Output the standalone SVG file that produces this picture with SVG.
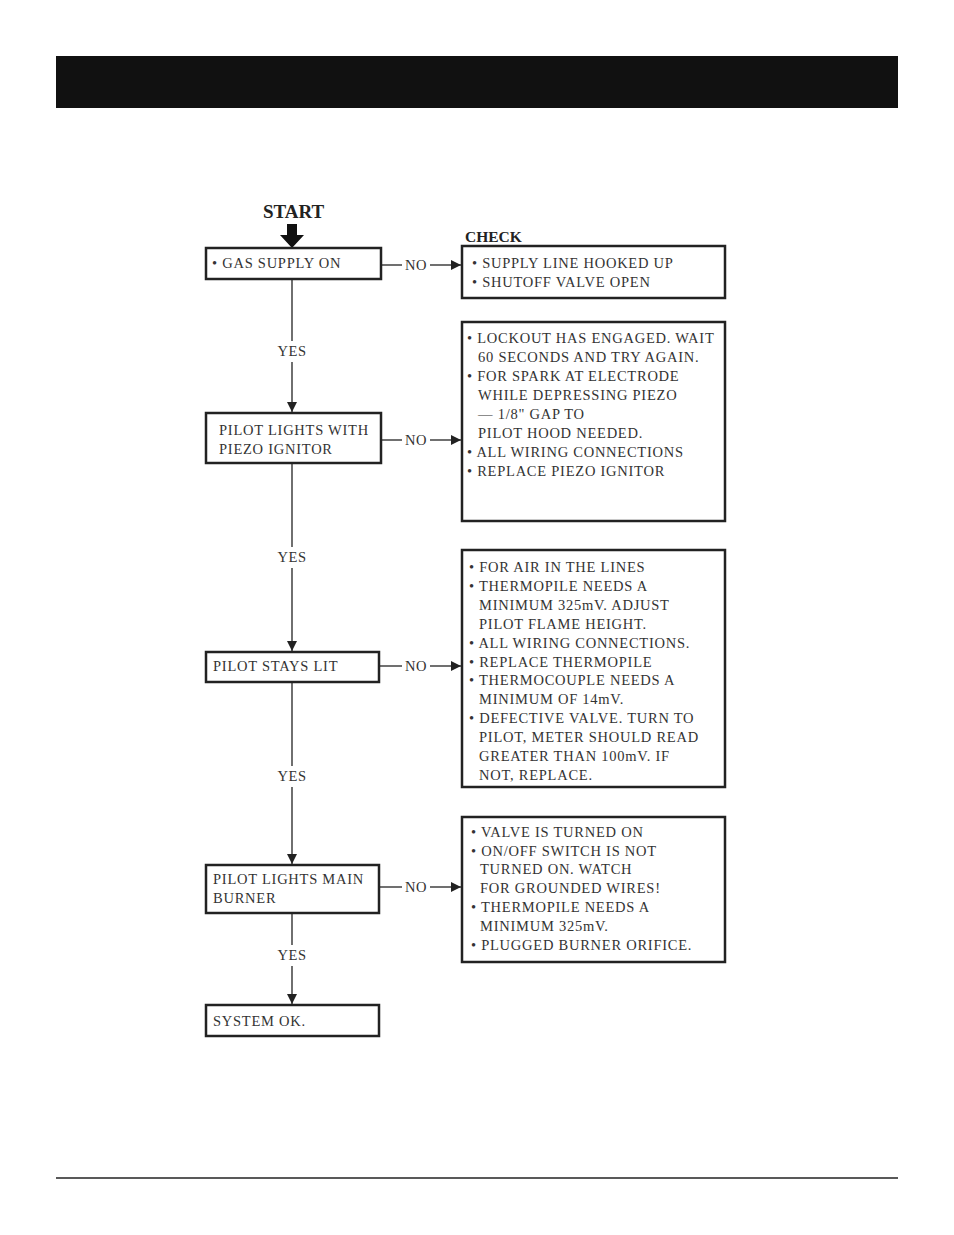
<svg xmlns="http://www.w3.org/2000/svg" width="954" height="1235" viewBox="0 0 954 1235">
<defs>
<style>
.box{fill:#fff;stroke:#222;stroke-width:2.5}
.t{font-family:"Liberation Serif","Times New Roman",serif;font-size:14.5px;letter-spacing:0.75px;fill:#333}
.lbl{font-family:"Liberation Serif","Times New Roman",serif;font-size:14.5px;letter-spacing:0.5px;fill:#333;text-anchor:middle}
.hd{font-family:"Liberation Serif","Times New Roman",serif;font-weight:bold;fill:#222}
.ln{stroke:#222;stroke-width:1.3;fill:none}
</style>
<marker id="ah" viewBox="0 0 10 10" refX="10" refY="5" markerWidth="17" markerHeight="10" markerUnits="userSpaceOnUse" orient="auto">
<path d="M0,0 L10,5 L0,10 z" fill="#222"/>
</marker>
<marker id="av" viewBox="0 0 10 10" refX="10" refY="5" markerWidth="18" markerHeight="10" markerUnits="userSpaceOnUse" orient="auto">
<path d="M0,0 L10,5 L0,10 z" fill="#222"/>
</marker>
</defs>
<rect width="954" height="1235" fill="#fff"/>
<rect x="56" y="56" width="842" height="52" fill="#111"/>
<line x1="56" y1="1178" x2="898" y2="1178" stroke="#222" stroke-width="1.3"/>

<text class="hd" x="263" y="218" font-size="19">START</text>
<path d="M287,224 H297 V235 H304 L292,248 L280,235 H287 Z" fill="#111"/>
<text class="hd" x="465" y="242" font-size="15.5">CHECK</text>

<g id="connectors">
<line class="ln" x1="292" y1="280" x2="292" y2="341"/>
<line class="ln" x1="292" y1="362" x2="292" y2="412" marker-end="url(#av)"/>
<line class="ln" x1="292" y1="464" x2="292" y2="547"/>
<line class="ln" x1="292" y1="568" x2="292" y2="651" marker-end="url(#av)"/>
<line class="ln" x1="292" y1="683" x2="292" y2="766"/>
<line class="ln" x1="292" y1="787" x2="292" y2="864" marker-end="url(#av)"/>
<line class="ln" x1="292" y1="914" x2="292" y2="945"/>
<line class="ln" x1="292" y1="966" x2="292" y2="1004" marker-end="url(#av)"/>
<text class="lbl" x="292" y="356">YES</text>
<text class="lbl" x="292" y="562">YES</text>
<text class="lbl" x="292" y="781">YES</text>
<text class="lbl" x="292" y="960">YES</text>

<line class="ln" x1="382" y1="265" x2="402" y2="265"/>
<text class="lbl" x="416" y="270">NO</text>
<line class="ln" x1="430" y1="265" x2="461" y2="265" marker-end="url(#ah)"/>
<line class="ln" x1="382" y1="440" x2="402" y2="440"/>
<text class="lbl" x="416" y="445">NO</text>
<line class="ln" x1="430" y1="440" x2="461" y2="440" marker-end="url(#ah)"/>
<line class="ln" x1="380" y1="666" x2="402" y2="666"/>
<text class="lbl" x="416" y="671">NO</text>
<line class="ln" x1="430" y1="666" x2="461" y2="666" marker-end="url(#ah)"/>
<line class="ln" x1="380" y1="887" x2="402" y2="887"/>
<text class="lbl" x="416" y="892">NO</text>
<line class="ln" x1="430" y1="887" x2="461" y2="887" marker-end="url(#ah)"/>
</g>

<g id="n-gas">
<rect class="box" x="206" y="248" width="175" height="31"/>
<text class="t" x="212" y="268">• GAS SUPPLY ON</text>
</g>
<g id="n-check1">
<rect class="box" x="462" y="246" width="263" height="52"/>
<text class="t" x="472" y="268">• SUPPLY LINE HOOKED UP</text>
<text class="t" x="472" y="287">• SHUTOFF VALVE OPEN</text>
</g>

<g id="n-piezo">
<rect class="box" x="206" y="413" width="175" height="50"/>
<text class="t" x="219" y="435">PILOT LIGHTS WITH</text>
<text class="t" x="219" y="454">PIEZO IGNITOR</text>
</g>
<g id="n-check2">
<rect class="box" x="462" y="322" width="263" height="199"/>
<text class="t" x="467" y="343">• LOCKOUT HAS ENGAGED. WAIT</text>
<text class="t" x="478" y="362">60 SECONDS AND TRY AGAIN.</text>
<text class="t" x="467" y="381">• FOR SPARK AT ELECTRODE</text>
<text class="t" x="478" y="400">WHILE DEPRESSING PIEZO</text>
<text class="t" x="478" y="419">— 1/8" GAP TO</text>
<text class="t" x="478" y="438">PILOT HOOD NEEDED.</text>
<text class="t" x="467" y="457">• ALL WIRING CONNECTIONS</text>
<text class="t" x="467" y="476">• REPLACE PIEZO IGNITOR</text>
</g>

<g id="n-stays">
<rect class="box" x="206" y="652" width="173" height="30"/>
<text class="t" x="213" y="671">PILOT STAYS LIT</text>
</g>
<g id="n-check3">
<rect class="box" x="462" y="550" width="263" height="237"/>
<text class="t" x="469" y="572">• FOR AIR IN THE LINES</text>
<text class="t" x="469" y="591">• THERMOPILE NEEDS A</text>
<text class="t" x="479" y="610">MINIMUM 325mV. ADJUST</text>
<text class="t" x="479" y="629">PILOT FLAME HEIGHT.</text>
<text class="t" x="469" y="648">• ALL WIRING CONNECTIONS.</text>
<text class="t" x="469" y="667">• REPLACE THERMOPILE</text>
<text class="t" x="469" y="685">• THERMOCOUPLE NEEDS A</text>
<text class="t" x="479" y="704">MINIMUM OF 14mV.</text>
<text class="t" x="469" y="723">• DEFECTIVE VALVE. TURN TO</text>
<text class="t" x="479" y="742">PILOT, METER SHOULD READ</text>
<text class="t" x="479" y="761">GREATER THAN 100mV. IF</text>
<text class="t" x="479" y="780">NOT, REPLACE.</text>
</g>

<g id="n-main">
<rect class="box" x="206" y="865" width="173" height="48"/>
<text class="t" x="213" y="884">PILOT LIGHTS MAIN</text>
<text class="t" x="213" y="903">BURNER</text>
</g>
<g id="n-check4">
<rect class="box" x="462" y="817" width="263" height="145"/>
<text class="t" x="471" y="837">• VALVE IS TURNED ON</text>
<text class="t" x="471" y="856">• ON/OFF SWITCH IS NOT</text>
<text class="t" x="480" y="874">TURNED ON. WATCH</text>
<text class="t" x="480" y="893">FOR GROUNDED WIRES!</text>
<text class="t" x="471" y="912">• THERMOPILE NEEDS A</text>
<text class="t" x="480" y="931">MINIMUM 325mV.</text>
<text class="t" x="471" y="950">• PLUGGED BURNER ORIFICE.</text>
</g>

<g id="n-ok">
<rect class="box" x="206" y="1005" width="173" height="31"/>
<text class="t" x="213" y="1026">SYSTEM OK.</text>
</g>
</svg>
